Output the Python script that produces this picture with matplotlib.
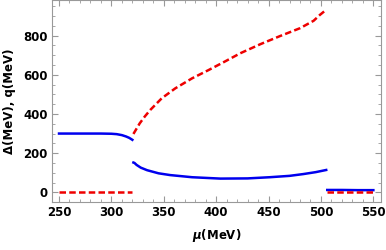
import matplotlib.pyplot as plt
import numpy as np
from matplotlib.ticker import MultipleLocator

plt.rcParams['font.family'] = ['DejaVu Sans']
plt.rcParams['font.weight'] = 'bold'
plt.rcParams['mathtext.fontset'] = 'custom'
plt.rcParams['mathtext.it'] = 'DejaVu Sans:italic:bold'
plt.rcParams['mathtext.rm'] = 'DejaVu Sans:bold'

# gap Delta (blue, solid) and wave number q (red, dashed), in MeV
mu_a = [250, 270, 290, 300, 305, 310, 314, 317, 320]
delta_a = [300, 300, 300, 299, 297, 292, 285, 278, 268]
q_a = [0, 0, 0, 0, 0, 0, 0, 0, 0]

mu_b = [321, 322, 324, 328, 334, 345, 356, 377, 404, 430, 451, 470, 483, 495, 505]
delta_b = [152, 150, 140, 126, 113, 97, 88, 77, 70, 71, 77, 84, 93, 103, 114]

mu_q = [321, 324, 327, 332, 337, 348, 361, 377, 393, 408, 423, 442, 461, 480, 493, 499, 505]
q_b = [298, 325, 352, 388, 420, 480, 531, 582, 625, 667, 710, 756, 798, 838, 876, 906, 932]

mu_c = [506, 520, 535, 550]
delta_c = [12, 12, 11, 11]
q_c = [0, 0, 0, 0]

fig = plt.figure(figsize=(3.86, 2.5), dpi=100)
ax = fig.add_axes([52/386, 48/250, 329/386, 202/250])

blue = '#0000ee'
red = '#ee0000'
dash = (0, (2.6, 1.3))
ax.plot(mu_a, delta_a, color=blue, lw=1.8)
ax.plot(mu_b, delta_b, color=blue, lw=1.8)
ax.plot(mu_c, delta_c, color=blue, lw=1.8)
ax.plot(mu_a, q_a, color=red, lw=1.8, ls=dash)
ax.plot(mu_q, q_b, color=red, lw=1.8, ls=dash)
ax.plot(mu_c, q_c, color=red, lw=1.8, ls=dash)

ax.set_xlim(243.3, 557.3)
ax.set_ylim(-49.5, 982)
ax.xaxis.set_major_locator(MultipleLocator(50))
ax.xaxis.set_minor_locator(MultipleLocator(10))
ax.yaxis.set_major_locator(MultipleLocator(200))
ax.yaxis.set_minor_locator(MultipleLocator(50))
ax.tick_params(which='both', direction='in', top=True, right=True, color='#999999',
               labelsize=8.5, pad=3)
ax.tick_params(which='major', length=4, width=0.8)
ax.tick_params(which='minor', length=2, width=0.6)
for s in ax.spines.values():
    s.set_color('#999999')

ax.set_xlabel(r'$\mu$(MeV)', fontsize=8.5, fontweight='bold', labelpad=6)
ax.set_ylabel('Δ(MeV), q(MeV)', fontsize=8.5, fontweight='bold', labelpad=5)

fig.savefig('out.png', dpi=100)
